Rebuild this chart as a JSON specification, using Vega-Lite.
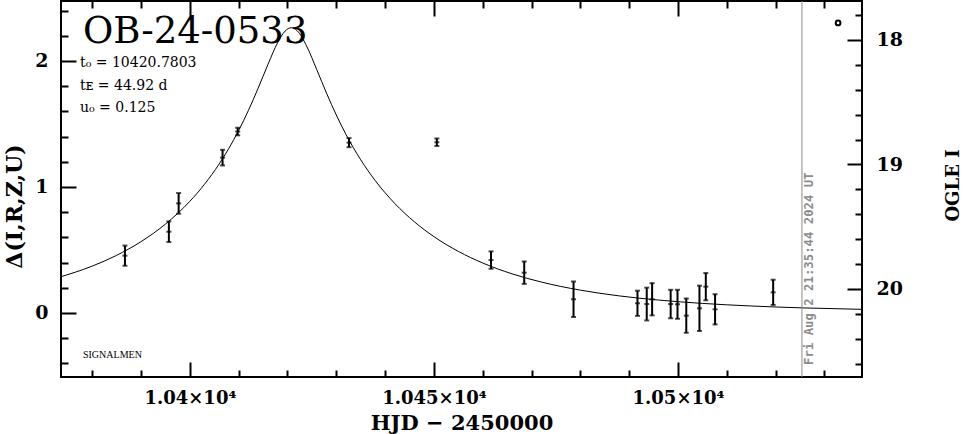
{
  "$schema": "https://vega.github.io/schema/vega-lite/v6.json",
  "width": 801,
  "height": 376,
  "autosize": {"type": "none"},
  "padding": {"left": 61, "top": 1, "right": 103, "bottom": 57},
  "background": "white",
  "datasets": {
    "model": [
      {"t": 10373, "d": 0.2808}, {"t": 10380, "d": 0.3721}, {"t": 10385, "d": 0.4576},
      {"t": 10390, "d": 0.5663}, {"t": 10395, "d": 0.7056}, {"t": 10400, "d": 0.8864},
      {"t": 10403, "d": 1.0215}, {"t": 10406, "d": 1.1824}, {"t": 10408, "d": 1.3072},
      {"t": 10410, "d": 1.4484}, {"t": 10412, "d": 1.6078}, {"t": 10414, "d": 1.7850},
      {"t": 10416, "d": 1.9727}, {"t": 10418, "d": 2.1466}, {"t": 10419.5, "d": 2.2369},
      {"t": 10420.78, "d": 2.2641}, {"t": 10422, "d": 2.2393}, {"t": 10424, "d": 2.1118},
      {"t": 10426, "d": 1.9313}, {"t": 10428, "d": 1.7446}, {"t": 10430, "d": 1.5712},
      {"t": 10432, "d": 1.4158}, {"t": 10435, "d": 1.2158}, {"t": 10438, "d": 1.0494},
      {"t": 10442, "d": 0.8685}, {"t": 10446, "d": 0.7235}, {"t": 10450, "d": 0.6061},
      {"t": 10455, "d": 0.4888}, {"t": 10460, "d": 0.3966}, {"t": 10466, "d": 0.3109},
      {"t": 10472, "d": 0.2456}, {"t": 10480, "d": 0.1813}, {"t": 10488, "d": 0.1355},
      {"t": 10496, "d": 0.1026}, {"t": 10505, "d": 0.0761}, {"t": 10515, "d": 0.0555},
      {"t": 10526, "d": 0.0400}, {"t": 10538, "d": 0.0286}
    ],
    "obs": [
      {"t": 10386.7, "d": 0.455, "e": 0.080}, {"t": 10395.7, "d": 0.645, "e": 0.082},
      {"t": 10397.7, "d": 0.870, "e": 0.082}, {"t": 10406.7, "d": 1.233, "e": 0.062},
      {"t": 10409.8, "d": 1.440, "e": 0.030}, {"t": 10432.6, "d": 1.352, "e": 0.036},
      {"t": 10450.6, "d": 1.355, "e": 0.030}, {"t": 10461.7, "d": 0.420, "e": 0.069},
      {"t": 10468.5, "d": 0.320, "e": 0.089}, {"t": 10478.6, "d": 0.109, "e": 0.140},
      {"t": 10491.7, "d": 0.077, "e": 0.100}, {"t": 10493.6, "d": 0.071, "e": 0.130},
      {"t": 10494.7, "d": 0.109, "e": 0.128}, {"t": 10498.5, "d": 0.071, "e": 0.113},
      {"t": 10499.9, "d": 0.069, "e": 0.115}, {"t": 10501.7, "d": -0.021, "e": 0.136},
      {"t": 10504.4, "d": 0.037, "e": 0.180}, {"t": 10505.7, "d": 0.209, "e": 0.108},
      {"t": 10507.6, "d": 0.029, "e": 0.120}, {"t": 10519.5, "d": 0.164, "e": 0.100}
    ],
    "marker": [{"t": 10532.8, "mag": 17.863}],
    "stamp": [{"t": 10525.4, "label": "Fri Aug  2 21:35:44 2024 UT"}]
  },
  "config": {
    "view": {"stroke": "black", "strokeWidth": 2},
    "axis": {
      "domain": false, "grid": false, "tickColor": "black", "tickWidth": 2,
      "labelColor": "black", "labelFont": "DejaVu Serif", "labelFontSize": 19, "labelFontWeight": "bold",
      "titleColor": "black", "titleFont": "DejaVu Serif", "titleFontWeight": "bold",
      "labelOverlap": false, "labelFlush": false
    }
  },
  "resolve": {"scale": {"y": "independent"}, "axis": {"x": "independent", "y": "independent"}},
  "layer": [
    {
      "data": {"name": "model"},
      "mark": {"type": "line", "color": "black", "strokeWidth": 1, "clip": true, "interpolate": "monotone"},
      "encoding": {
        "x": {"field": "t", "type": "quantitative",
          "scale": {"domain": [10373.6, 10537.7], "nice": false, "zero": false},
          "axis": {"orient": "bottom", "values": [10400, 10450, 10500], "offset": -15, "tickSize": 15, "labelPadding": 12,
            "labelExpr": "(datum.value/10000) + '×10⁴'", "labelFontSize": 18,
            "title": "HJD − 2450000", "titleFontSize": 21, "titleY": 67, "titleBaseline": "alphabetic"}},
        "y": {"field": "d", "type": "quantitative",
          "scale": {"domain": [-0.508, 2.476], "nice": false, "zero": false},
          "axis": {"orient": "left", "values": [0, 1, 2], "offset": -15, "tickSize": 15, "labelPadding": 13,
            "title": "Δ(I,R,Z,U)", "titleFontSize": 22, "titleAngle": 270, "titleX": -62, "titleY": 205,
            "titleAlign": "center", "titleBaseline": "middle"}}
      }
    },
    {
      "data": {"name": "obs"},
      "mark": {"type": "errorbar", "ticks": true, "size": 5, "thickness": 2, "color": "black"},
      "encoding": {
        "x": {"field": "t", "type": "quantitative",
          "scale": {"domain": [10373.6, 10537.7], "nice": false, "zero": false},
          "axis": {"orient": "top", "values": [10400, 10450, 10500], "offset": -15, "tickSize": 15, "labels": false, "title": null}},
        "y": {"field": "d", "type": "quantitative",
          "scale": {"domain": [-0.508, 2.476], "nice": false, "zero": false},
          "axis": {"orient": "left", "values": [-0.4, -0.2, 0.2, 0.4, 0.6, 0.8, 1.2, 1.4, 1.6, 1.8, 2.2, 2.4],
            "offset": -7, "tickSize": 7, "labels": false, "title": null}},
        "yError": {"field": "e"}
      }
    },
    {
      "data": {"name": "obs"},
      "mark": {"type": "tick", "orient": "horizontal", "size": 5, "thickness": 2, "color": "black"},
      "encoding": {
        "x": {"field": "t", "type": "quantitative",
          "scale": {"domain": [10373.6, 10537.7], "nice": false, "zero": false},
          "axis": {"orient": "bottom", "values": [10380, 10390, 10410, 10420, 10430, 10440, 10460, 10470, 10480, 10490, 10510, 10520, 10530],
            "offset": -7, "tickSize": 7, "labels": false, "title": null}},
        "y": {"field": "d", "type": "quantitative",
          "scale": {"domain": [-0.508, 2.476], "nice": false, "zero": false}, "axis": null}
      }
    },
    {
      "data": {"name": "stamp"},
      "mark": {"type": "rule", "color": "#8c8c8c", "strokeWidth": 1},
      "encoding": {
        "x": {"field": "t", "type": "quantitative",
          "scale": {"domain": [10373.6, 10537.7], "nice": false, "zero": false},
          "axis": {"orient": "top", "values": [10380, 10390, 10410, 10420, 10430, 10440, 10460, 10470, 10480, 10490, 10510, 10520, 10530],
            "offset": -7, "tickSize": 7, "labels": false, "title": null}}
      }
    },
    {
      "data": {"name": "marker"},
      "mark": {"type": "point", "shape": "circle", "filled": false, "size": 22, "strokeWidth": 2, "color": "black", "opacity": 1},
      "encoding": {
        "x": {"field": "t", "type": "quantitative",
          "scale": {"domain": [10373.6, 10537.7], "nice": false, "zero": false}, "axis": null},
        "y": {"field": "mag", "type": "quantitative",
          "scale": {"domain": [20.707, 17.687], "nice": false, "zero": false},
          "axis": {"orient": "right", "values": [18, 19, 20], "offset": -15, "tickSize": 15, "labelPadding": 14,
            "title": "OGLE I", "titleFontSize": 18, "titleAngle": 270, "titleX": 106, "titleY": 184,
            "titleAlign": "center", "titleBaseline": "middle"}}
      }
    },
    {
      "data": {"name": "stamp"},
      "mark": {"type": "text", "angle": 270, "align": "left", "baseline": "middle", "dy": 7,
        "font": "DejaVu Sans Mono", "fontWeight": "bold", "fontSize": 12.3, "color": "#8c8c8c"},
      "encoding": {
        "x": {"field": "t", "type": "quantitative",
          "scale": {"domain": [10373.6, 10537.7], "nice": false, "zero": false}, "axis": null},
        "y": {"datum": 20.61, "type": "quantitative",
          "scale": {"domain": [20.707, 17.687], "nice": false, "zero": false},
          "axis": {"orient": "right", "values": [17.8, 18.2, 18.4, 18.6, 18.8, 19.2, 19.4, 19.6, 19.8, 20.2, 20.4, 20.6],
            "offset": -7, "tickSize": 7, "labels": false, "title": null}},
        "text": {"field": "label"}
      }
    },
    {
      "data": {"values": [{"label": "OB-24-0533"}]},
      "mark": {"type": "text", "align": "left", "baseline": "alphabetic", "font": "DejaVu Serif", "fontSize": 37, "color": "black"},
      "encoding": {
        "x": {"datum": 10378.1, "type": "quantitative",
          "scale": {"domain": [10373.6, 10537.7], "nice": false, "zero": false}, "axis": null},
        "y": {"datum": 2.143, "type": "quantitative",
          "scale": {"domain": [-0.508, 2.476], "nice": false, "zero": false}, "axis": null},
        "text": {"field": "label"}
      }
    },
    {
      "data": {"values": [{"label": ["t₀ = 10420.7803", "tᴇ = 44.92 d", "u₀ = 0.125"]}]},
      "mark": {"type": "text", "align": "left", "baseline": "alphabetic", "font": "DejaVu Serif", "fontSize": 14, "lineHeight": 22.5, "color": "black"},
      "encoding": {
        "x": {"datum": 10377.5, "type": "quantitative",
          "scale": {"domain": [10373.6, 10537.7], "nice": false, "zero": false}, "axis": null},
        "y": {"datum": 1.952, "type": "quantitative",
          "scale": {"domain": [-0.508, 2.476], "nice": false, "zero": false}, "axis": null},
        "text": {"field": "label"}
      }
    },
    {
      "data": {"values": [{"label": "SIGNALMEN"}]},
      "mark": {"type": "text", "align": "left", "baseline": "alphabetic", "font": "Liberation Serif", "fontSize": 10, "color": "black"},
      "encoding": {
        "x": {"datum": 10378.1, "type": "quantitative",
          "scale": {"domain": [10373.6, 10537.7], "nice": false, "zero": false}, "axis": null},
        "y": {"datum": -0.357, "type": "quantitative",
          "scale": {"domain": [-0.508, 2.476], "nice": false, "zero": false}, "axis": null},
        "text": {"field": "label"}
      }
    }
  ]
}
